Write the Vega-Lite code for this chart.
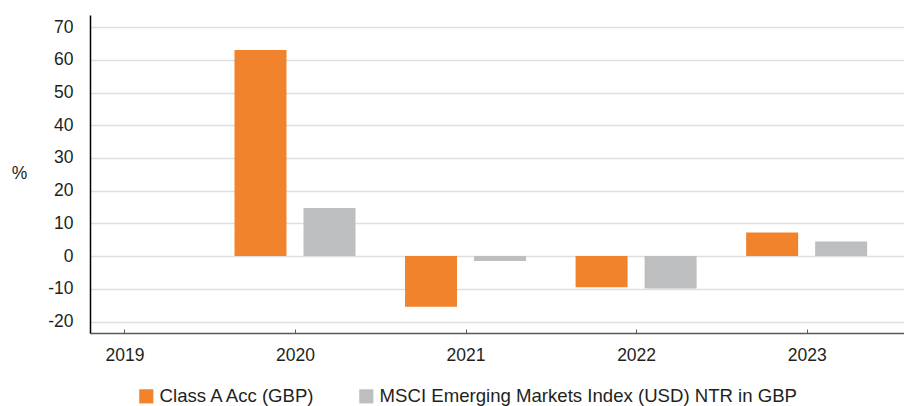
{
  "$schema": "https://vega.github.io/schema/vega-lite/v6.json",
  "autosize": {"type": "none"},
  "width": 814,
  "height": 318,
  "padding": {"left": 90, "top": 15, "right": 0, "bottom": 73},
  "background": "white",
  "config": {
    "view": {"stroke": null},
    "font": "Liberation Sans",
    "axis": {"labelFont": "Liberation Sans", "titleFont": "Liberation Sans", "labelColor": "#231f20", "titleColor": "#231f20"},
    "legend": {"labelFont": "Liberation Sans", "labelColor": "#231f20"}
  },
  "data": {
    "values": [
      {"year": 2020, "series": "Class A Acc (GBP)", "value": 63.0},
      {"year": 2020, "series": "MSCI Emerging Markets Index (USD) NTR in GBP", "value": 14.7},
      {"year": 2021, "series": "Class A Acc (GBP)", "value": -15.5},
      {"year": 2021, "series": "MSCI Emerging Markets Index (USD) NTR in GBP", "value": -1.5},
      {"year": 2022, "series": "Class A Acc (GBP)", "value": -9.5},
      {"year": 2022, "series": "MSCI Emerging Markets Index (USD) NTR in GBP", "value": -9.9},
      {"year": 2023, "series": "Class A Acc (GBP)", "value": 7.2},
      {"year": 2023, "series": "MSCI Emerging Markets Index (USD) NTR in GBP", "value": 4.5}
    ]
  },
  "encoding": {
    "x": {
      "field": "year", "type": "quantitative",
      "scale": {"domain": [2018.8274, 2023.5415], "nice": false, "zero": false},
      "axis": {
        "values": [2019, 2020, 2021, 2022, 2023], "format": "d", "title": null, "grid": false,
        "domainColor": "#595959", "domainWidth": 1.5, "tickColor": "#595959", "tickSize": -4, "tickWidth": 1,
        "labelFontSize": 17.5, "labelPadding": 17, "labelFlush": false
      }
    },
    "y": {
      "field": "value", "type": "quantitative",
      "scale": {"domain": [-23.5, 73.7], "nice": false, "zero": false},
      "axis": {
        "values": [-20, -10, 0, 10, 20, 30, 40, 50, 60, 70],
        "labelExpr": "replace(datum.label, '\u2212', '-')",
        "title": "%", "titleAngle": 0, "titleFontSize": 17.5, "titleFontWeight": "normal",
        "titleAlign": "center", "titleBaseline": "middle", "titleX": -71, "titleY": 158,
        "grid": true, "gridColor": "#dedede", "gridWidth": 1.5,
        "domainColor": "#000000", "domainWidth": 1.5, "ticks": false,
        "labelFontSize": 17.5, "labelPadding": 17
      }
    },
    "color": {
      "field": "series", "type": "nominal",
      "scale": {"domain": ["Class A Acc (GBP)", "MSCI Emerging Markets Index (USD) NTR in GBP"], "range": ["#f0832c", "#bdbec0"]},
      "legend": {
        "title": null, "orient": "none", "legendX": 47, "legendY": 372, "direction": "horizontal",
        "symbolType": "square", "symbolSize": 200, "symbolStrokeWidth": 0, "symbolOpacity": 1,
        "labelFontSize": 18.6, "labelOffset": 4, "labelLimit": 0, "columnPadding": 40, "padding": 0
      }
    }
  },
  "layer": [
    {
      "transform": [{"filter": "datum.series === 'Class A Acc (GBP)'"}],
      "mark": {"type": "bar", "width": 52, "xOffset": -34.5}
    },
    {
      "transform": [{"filter": "datum.series !== 'Class A Acc (GBP)'"}],
      "mark": {"type": "bar", "width": 52, "xOffset": 34.5}
    }
  ]
}
